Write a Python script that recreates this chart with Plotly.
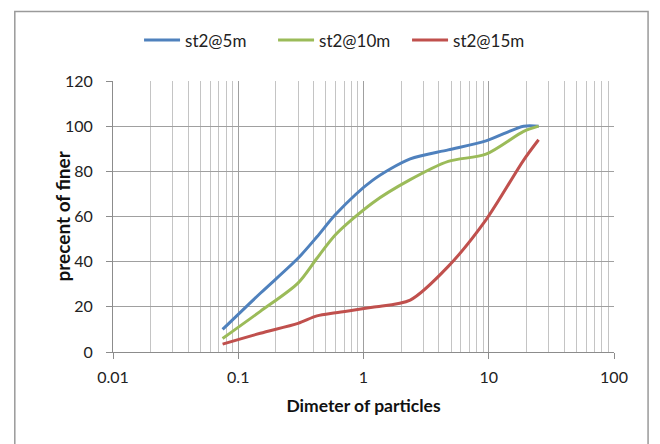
import plotly.graph_objects as go

diameter = [0.075, 0.15, 0.3, 0.425, 0.6, 1.18, 2.36, 4.75, 9.5, 19, 25]
st2_5m = [10, 26, 41.5, 51, 61, 76, 85.5, 89.5, 93.5, 100, 100]
st2_10m = [6, 18, 30.5, 41.5, 52, 66, 76.3, 84.4, 87.6, 97.7, 100]
st2_15m = [3.5, 8.3, 12.7, 16, 17.4, 19.8, 23, 37.9, 58.5, 85, 94]

series = [
    ("st2@5m", st2_5m, "#4F81BD"),
    ("st2@10m", st2_10m, "#9BBB59"),
    ("st2@15m", st2_15m, "#C0504D"),
]

font_family = "Lato, 'Open Sans', sans-serif"

fig = go.Figure()
for name, vals, col in series:
    fig.add_trace(go.Scatter(
        x=diameter, y=vals, name=name, mode="lines",
        line=dict(color=col, width=3, shape="spline", smoothing=0.8),
    ))

fig.update_layout(
    width=660, height=444,
    margin=dict(l=113, r=46, t=81, b=92, autoexpand=False),
    paper_bgcolor="white", plot_bgcolor="white",
    font=dict(family=font_family, size=15, color="#222"),
    showlegend=True,
    legend=dict(orientation="h", x=0.052, xanchor="left", y=1.15, yanchor="middle",
                font=dict(size=17, color="#222"), bgcolor="rgba(0,0,0,0)",
                entrywidth=83, entrywidthmode="pixels", itemwidth=36, tracegroupgap=0),
    shapes=[dict(type="rect", xref="paper", yref="paper",
                 x0=-0.196, x1=1.068, y0=-0.36, y1=1.256,
                 line=dict(color="#9a9a9a", width=1.5), fillcolor="rgba(0,0,0,0)", layer="below")],
    annotations=[dict(text="<b>precent of finer</b>", xref="paper", yref="paper",
                      x=0, xshift=-51, y=0.5, xanchor="center", yanchor="middle",
                      textangle=-90, showarrow=False,
                      font=dict(size=19, color="#111", family=font_family))],
)

fig.update_xaxes(
    type="log", range=[-2, 2],
    tickvals=[0.01, 0.1, 1, 10, 100], ticktext=["0.01", "0.1", "1", "10", "100"],
    showgrid=True, gridcolor="#a0a0a0", gridwidth=1,
    minor=dict(showgrid=True, gridcolor="#c4c4c4", gridwidth=1, dtick="D1", ticks=""),
    ticks="outside", ticklen=6, tickcolor="#8c8c8c", ticklabelstandoff=5,
    showline=True, linecolor="#8c8c8c", linewidth=1,
    tickfont=dict(size=16, color="#222"),
    title=dict(text="<b>Dimeter of particles</b>", font=dict(size=17.5, color="#111"), standoff=14),
    zeroline=False,
)
fig.update_yaxes(
    range=[0, 120], tickvals=[0, 20, 40, 60, 80, 100, 120],
    showgrid=True, gridcolor="#a0a0a0", gridwidth=1,
    ticks="outside", ticklen=6, tickcolor="#8c8c8c", ticklabelstandoff=10,
    showline=True, linecolor="#8c8c8c", linewidth=1,
    tickfont=dict(size=16, color="#222"),
    zeroline=False,
)

fig.write_html("out.html")
